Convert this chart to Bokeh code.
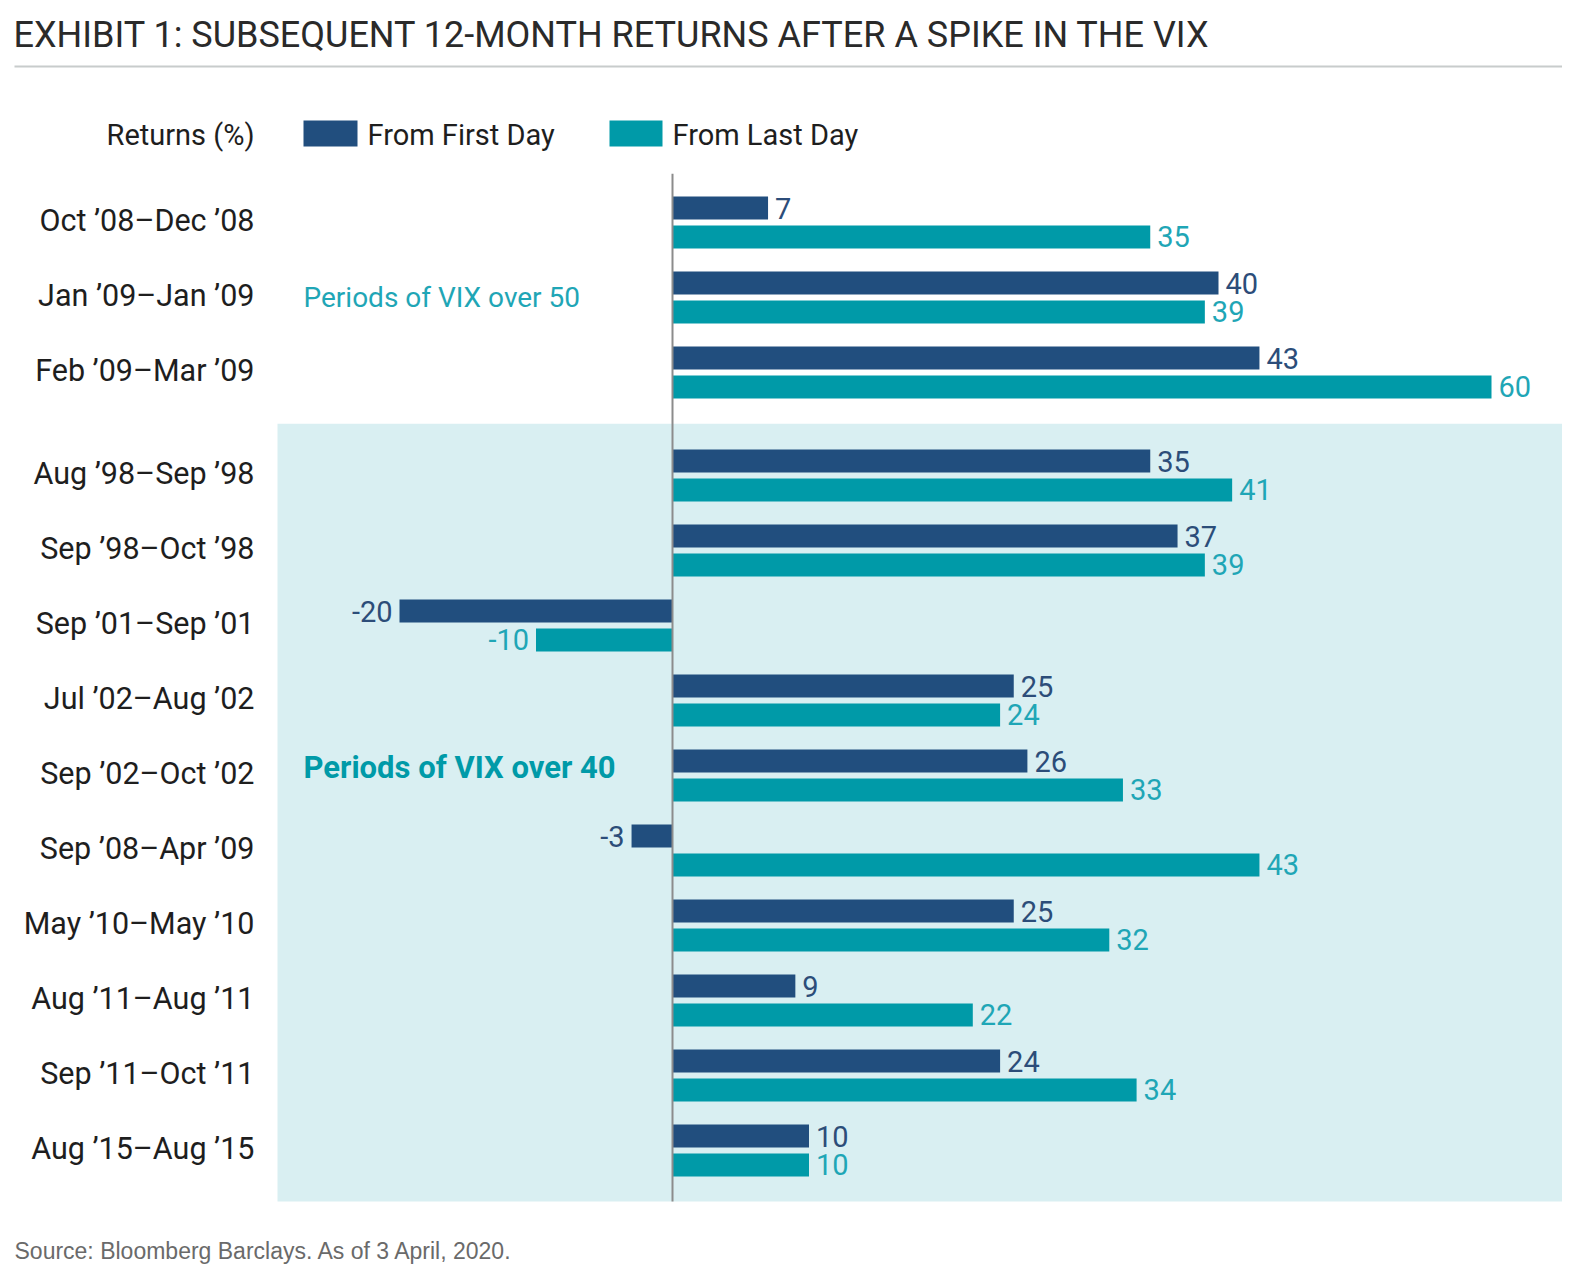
from bokeh.plotting import figure
from bokeh.models import Range1d, Label, ColumnDataSource
from bokeh.core.properties import value
from bokeh.embed import file_html
from bokeh.resources import INLINE

# ---------------- data ----------------
periods = ["Oct ’08–Dec ’08", "Jan ’09–Jan ’09", "Feb ’09–Mar ’09",
           "Aug ’98–Sep ’98", "Sep ’98–Oct ’98", "Sep ’01–Sep ’01",
           "Jul ’02–Aug ’02", "Sep ’02–Oct ’02", "Sep ’08–Apr ’09",
           "May ’10–May ’10", "Aug ’11–Aug ’11", "Sep ’11–Oct ’11",
           "Aug ’15–Aug ’15"]
first_day = [7, 40, 43, 35, 37, -20, 25, 26, -3, 25, 9, 24, 10]
last_day = [35, 39, 60, 41, 39, -10, 24, 33, 43, 32, 22, 34, 10]
n_over_50 = 3  # first three periods: VIX over 50; rest: VIX over 40
series_names = ["From First Day", "From Last Day"]
title_text = "EXHIBIT 1: SUBSEQUENT 12-MONTH RETURNS AFTER A SPIKE IN THE VIX"
source_text = "Source: Bloomberg Barclays. As of 3 April, 2020."

# ---------------- style ----------------
DARK = "#214e7e"
TEAL = "#009aa8"
DARK_TXT = "#2c4d79"
TEAL_TXT = "#1fa6b6"
BAND = "#d9eff2"
FONT = "Roboto"

W, H = 1562, 1264
PX_PER_UNIT_X = 13.65
ZERO_PX = 672
ROW_PX = 75.0
ROW0_PX = 222
OFF = 0

def X(px):
    return (px - ZERO_PX) / PX_PER_UNIT_X

def Y(py):
    return (py - ROW0_PX) / ROW_PX

GAP = 0.373
pos = [i + (GAP if i >= n_over_50 else 0) for i in range(len(periods))]
BAR_H = 0.307
BAR_OFF = 0.193

p = figure(width=W, height=H,
           x_range=Range1d(X(OFF), X(OFF + W)),
           y_range=Range1d(Y(OFF + H), Y(OFF)),
           output_backend="svg", toolbar_location=None,
           x_axis_location=None, y_axis_location=None,
           min_border=0, outline_line_color=None,
           background_fill_color="white", border_fill_color="white")
p.grid.visible = False

# shaded band for VIX over 40
band_top = pos[n_over_50] - 0.69
band_bot = pos[-1] + 0.68
p.quad(left=[X(277)], right=[X(OFF + W)], top=[band_top], bottom=[band_bot],
       fill_color=BAND, line_color=None, level="underlay")

# bars
y_first = [v - BAR_OFF for v in pos]
y_last = [v + BAR_OFF for v in pos]
src1 = ColumnDataSource(dict(y=y_first, v=first_day))
src2 = ColumnDataSource(dict(y=y_last, v=last_day))
p.hbar(y="y", left=0, right="v", height=BAR_H, source=src1,
       fill_color=DARK, line_color=None)
p.hbar(y="y", left=0, right="v", height=BAR_H, source=src2,
       fill_color=TEAL, line_color=None)

# zero line
p.segment(x0=[0], x1=[0], y0=[pos[0] - 0.65], y1=[band_bot],
          line_color="#8c8c8c", line_width=2)

# value labels
lab_off = 7 / PX_PER_UNIT_X
def labels(yv, vals, color):
    xs = [v + lab_off if v >= 0 else v - lab_off for v in vals]
    al = ["left" if v >= 0 else "right" for v in vals]
    txt = [str(v) for v in vals]
    s = ColumnDataSource(dict(x=xs, y=yv, t=txt, a=al))
    p.text(x="x", y="y", text="t", text_align="a", source=s,
           text_baseline="middle", text_color=color,
           text_font=value(FONT), text_font_size="29px")
labels(y_first, first_day, DARK_TXT)
labels(y_last, last_day, TEAL_TXT)

# category labels
cs = ColumnDataSource(dict(x=[X(254)] * len(periods),
                           y=[v - 0.03 for v in pos], t=periods))
p.text(x="x", y="y", text="t", source=cs, text_align="right",
       text_baseline="middle", text_color="#1e1e1e",
       text_font=value(FONT), text_font_size="30.5px")

# group annotations
p.add_layout(Label(x=X(303), y=pos[1], text="Periods of VIX over 50",
                   text_align="left", text_baseline="middle",
                   text_color=TEAL_TXT, text_font=FONT,
                   text_font_size="28px"))
p.add_layout(Label(x=X(303), y=pos[7] - 0.1, text="Periods of VIX over 40",
                   text_align="left", text_baseline="middle",
                   text_color=TEAL, text_font=FONT, text_font_style="bold",
                   text_font_size="31px"))

# legend (manual)
ly = Y(134)
p.add_layout(Label(x=X(254), y=ly, text="Returns (%)", text_align="right",
                   text_baseline="middle", text_color="#1e1e1e",
                   text_font=FONT, text_font_size="29px"))
p.quad(left=[X(303), X(609)], right=[X(357), X(662)],
       top=[Y(120), Y(120)], bottom=[Y(146), Y(146)],
       fill_color=[DARK, TEAL], line_color=None)
p.add_layout(Label(x=X(367), y=ly, text=series_names[0], text_align="left",
                   text_baseline="middle", text_color="#1e1e1e",
                   text_font=FONT, text_font_size="29px"))
p.add_layout(Label(x=X(672), y=ly, text=series_names[1], text_align="left",
                   text_baseline="middle", text_color="#1e1e1e",
                   text_font=FONT, text_font_size="29px"))

# title and rule
p.add_layout(Label(x=X(13), y=Y(34), text=title_text, text_align="left",
                   text_baseline="middle", text_color="#2a2a2a",
                   text_font=FONT, text_font_size="36px"))
p.segment(x0=[X(14)], x1=[X(OFF + W)], y0=[Y(66)], y1=[Y(66)],
          line_color="#c8cccc", line_width=2)

# source
p.add_layout(Label(x=X(14), y=Y(1250), text=source_text, text_align="left",
                   text_baseline="middle", text_color="#6a6a6a",
                   text_font="Liberation Sans", text_font_size="23px"))

open("out.html", "w").write(file_html(p, INLINE))
